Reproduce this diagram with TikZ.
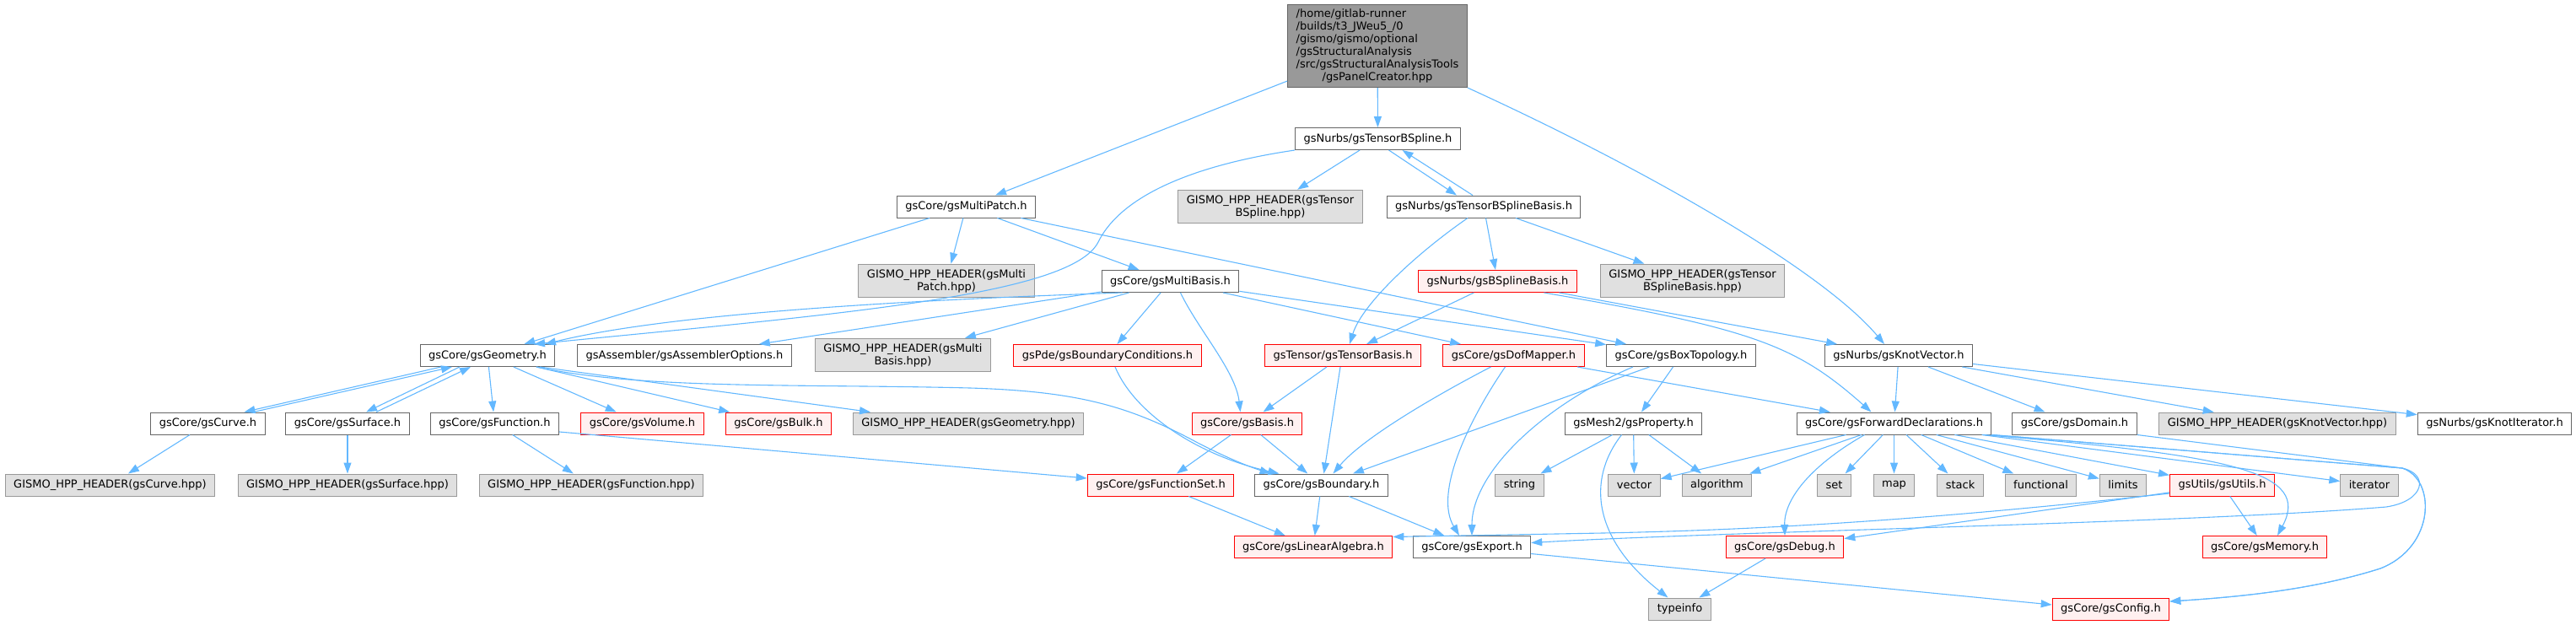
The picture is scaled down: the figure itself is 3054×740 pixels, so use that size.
\documentclass[tikz,border=0pt]{standalone}
\usepackage{fontspec}
\setmainfont{DejaVu Sans}
\usetikzlibrary{arrows.meta}

\definecolor{edgeblue}{HTML}{63B8FF}
\definecolor{boxgrey}{HTML}{666666}
\definecolor{hdrgrey}{HTML}{999999}
\definecolor{hdrfill}{HTML}{E0E0E0}
\definecolor{redfill}{HTML}{FFF0F0}
\definecolor{rootfill}{HTML}{999999}

\begin{document}
\begin{tikzpicture}[x=1pt,y=-1pt,
  dnode/.style={draw=boxgrey,fill=white,line width=1pt,font=\fontsize{13}{15}\selectfont,align=center,inner xsep=10pt,inner ysep=6pt,minimum height=26pt},
  dred/.style={dnode,draw=red,fill=redfill},
  dgray/.style={dnode,draw=hdrgrey,fill=hdrfill},
  droot/.style={dnode,fill=rootfill,inner ysep=4pt},
  dep/.style={draw=edgeblue,line width=1.1pt,-{Triangle[length=13pt,width=9pt]}}]
\useasboundingbox (0,0) rectangle (3054,740);
% rows top to bottom
\node[droot] (panel) at (1633,54.5) {\begin{tabular}{@{}l@{}}/home/gitlab-runner\\/builds/t3\_JWeu5\_/0\\/gismo/gismo/optional\\/gsStructuralAnalysis\\/src/gsStructuralAnalysisTools\\\multicolumn{1}{@{}c@{}}{/gsPanelCreator.hpp}\end{tabular}};
\node[dnode] (tspline) at (1633.5,164.5) {gsNurbs/gsTensorBSpline.h};
\node[dnode] (mpatch) at (1145.5,245) {gsCore/gsMultiPatch.h};
\node[dgray] (htspline) at (1506,245) {GISMO\_HPP\_HEADER(gsTensor\\BSpline.hpp)};
\node[dnode] (tsbasis) at (1759,245) {gsNurbs/gsTensorBSplineBasis.h};
\node[dgray] (hmpatch) at (1122,333) {GISMO\_HPP\_HEADER(gsMulti\\Patch.hpp)};
\node[dnode] (mbasis) at (1387.5,333.5) {gsCore/gsMultiBasis.h};
\node[dred] (bsbasis) at (1775.5,333.5) {gsNurbs/gsBSplineBasis.h};
\node[dgray] (htsbasis) at (2006.5,333) {GISMO\_HPP\_HEADER(gsTensor\\BSplineBasis.hpp)};
\node[dnode] (geom) at (578,421.5) {gsCore/gsGeometry.h};
\node[dnode] (asmopt) at (811.5,421.5) {gsAssembler/gsAssemblerOptions.h};
\node[dgray] (hmbasis) at (1070.5,421) {GISMO\_HPP\_HEADER(gsMulti\\Basis.hpp)};
\node[dred] (bcond) at (1313,421.5) {gsPde/gsBoundaryConditions.h};
\node[dred] (tbasis) at (1592,421.5) {gsTensor/gsTensorBasis.h};
\node[dred] (dofmap) at (1794.5,421.5) {gsCore/gsDofMapper.h};
\node[dnode] (boxtop) at (1993,421.5) {gsCore/gsBoxTopology.h};
\node[dnode] (knotvec) at (2251,421.5) {gsNurbs/gsKnotVector.h};
\node[dnode] (curve) at (246.5,502) {gsCore/gsCurve.h};
\node[dnode] (surf) at (412,502) {gsCore/gsSurface.h};
\node[dnode] (func) at (586.5,502) {gsCore/gsFunction.h};
\node[dred] (vol) at (761.5,502) {gsCore/gsVolume.h};
\node[dred] (bulk) at (923,502) {gsCore/gsBulk.h};
\node[dgray] (hgeom) at (1148,502) {GISMO\_HPP\_HEADER(gsGeometry.hpp)};
\node[dred] (basis) at (1478.5,502) {gsCore/gsBasis.h};
\node[dnode] (prop) at (1936.5,502) {gsMesh2/gsProperty.h};
\node[dnode] (fwd) at (2245.5,502) {gsCore/gsForwardDeclarations.h};
\node[dnode] (domain) at (2459.5,502) {gsCore/gsDomain.h};
\node[dgray] (hknot) at (2700,502) {GISMO\_HPP\_HEADER(gsKnotVector.hpp)};
\node[dnode] (knotit) at (2957.5,502) {gsNurbs/gsKnotIterator.h};
\node[dgray] (hcurve) at (130.5,575) {GISMO\_HPP\_HEADER(gsCurve.hpp)};
\node[dgray] (hsurf) at (412,575) {GISMO\_HPP\_HEADER(gsSurface.hpp)};
\node[dgray] (hfunc) at (701,575) {GISMO\_HPP\_HEADER(gsFunction.hpp)};
\node[dred] (funcset) at (1376,575) {gsCore/gsFunctionSet.h};
\node[dnode] (bnd) at (1566.5,575) {gsCore/gsBoundary.h};
\node[dgray] (stdstring) at (1801.5,575) {string};
\node[dgray] (stdvector) at (1937.5,575) {vector};
\node[dgray] (stdalgo) at (2035.5,575) {algorithm};
\node[dgray] (stdset) at (2174.5,575) {set};
\node[dgray] (stdmap) at (2245.5,575) {map};
\node[dgray] (stdstack) at (2324,575) {stack};
\node[dgray] (functional) at (2419.5,575) {functional};
\node[dgray] (limits) at (2517,575) {limits};
\node[dred] (utils) at (2634.5,575) {gsUtils/gsUtils.h};
\node[dgray] (iterator) at (2809,575) {iterator};
\node[dred] (linalg) at (1557,648.5) {gsCore/gsLinearAlgebra.h};
\node[dnode] (export) at (1745,648.5) {gsCore/gsExport.h};
\node[dred] (debug) at (2116,648.5) {gsCore/gsDebug.h};
\node[dred] (memory) at (2685,648.5) {gsCore/gsMemory.h};
\node[dgray] (typeinfo) at (1991.5,722) {typeinfo};
\node[dred] (config) at (2502.5,722) {gsCore/gsConfig.h};
% includes
\draw[dep] (panel) -- (mpatch); \draw[dep] (panel) -- (tspline);
\draw[dep] (panel.south east) .. controls (1950,200) and (2160,320) .. ([xshift=-17pt]knotvec.north);
\draw[dep] (tspline.south west) .. controls (1420,195) and (1330,230) .. (1302,287) .. controls (1270,350) and (1000,372) .. ([xshift=55pt]geom.north);
\draw[dep] (tspline) -- (htspline);
\draw[dep] ([xshift=13pt]tspline.south) -- ([xshift=-32pt]tsbasis.north);
\draw[dep] ([xshift=-13pt]tsbasis.north) -- ([xshift=29pt]tspline.south);
\draw[dep] (mpatch) -- (geom); \draw[dep] (mpatch) -- (hmpatch);
\draw[dep] (mpatch) -- (mbasis); \draw[dep] (mpatch) -- (boxtop);
\draw[dep] ([xshift=-19pt]tsbasis.south) .. controls (1680,300) and (1615,360) .. ([xshift=8pt]tbasis.north);
\draw[dep] (tsbasis) -- (bsbasis); \draw[dep] (tsbasis) -- (htsbasis);
\draw[dep] ([xshift=-57pt]mbasis.south) .. controls (1100,355) and (800,370) .. ([xshift=68pt]geom.north);
\draw[dep] (mbasis) -- (asmopt); \draw[dep] (mbasis) -- (hmbasis); \draw[dep] (mbasis) -- (bcond);
\draw[dep] ([xshift=12pt]mbasis.south) .. controls (1420,390) and (1465,440) .. ([xshift=-8pt]basis.north);
\draw[dep] (mbasis) -- (dofmap); \draw[dep] (mbasis) -- (boxtop);
\draw[dep] (bsbasis) -- (tbasis); \draw[dep] (bsbasis) -- (knotvec);
\draw[dep] ([xshift=55pt]bsbasis.south) .. controls (2080,390) and (2130,410) .. ([xshift=-27pt]fwd.north);
\draw[dep] ([xshift=-55pt]geom.south) -- ([xshift=43pt]curve.north);
\draw[dep] ([xshift=54pt]curve.north) -- ([xshift=-42pt]geom.south);
\draw[dep] ([xshift=-33pt]geom.south) -- ([xshift=22pt]surf.north);
\draw[dep] ([xshift=34pt]surf.north) -- ([xshift=-20pt]geom.south);
\draw[dep] (geom) -- (func); \draw[dep] (geom) -- (vol); \draw[dep] (geom) -- (bulk);
\draw[dep] ([xshift=62pt]geom.south) -- ([xshift=-116pt]hgeom.north);
\draw[dep] ([xshift=58pt]geom.south) .. controls (760,462) and (950,455) .. (1150,460) .. controls (1280,464) and (1340,482) .. (1420,525) .. controls (1455,543) and (1480,553) .. ([xshift=-60pt]bnd.north);
\draw[dep] (curve) -- (hcurve); \draw[dep] (surf) -- (hsurf); \draw[dep] (func) -- (hfunc);
\draw[dep] ([yshift=-10pt]func.east) -- ([yshift=8pt]funcset.west);
\draw[dep] ([xshift=9pt]bcond.south) .. controls (1345,490) and (1420,540) .. ([xshift=-50pt]bnd.north);
\draw[dep] (tbasis) -- (basis);
\draw[dep] ([xshift=-3pt]tbasis.south) -- ([xshift=3pt]bnd.north);
\draw[dep] ([xshift=-27pt]dofmap.south) .. controls (1700,470) and (1615,520) .. ([xshift=14pt]bnd.north);
\draw[dep] ([xshift=-10pt]dofmap.south) .. controls (1740,500) and (1700,585) .. ([xshift=-15pt]export.north);
\draw[dep] (dofmap) -- (fwd);
\draw[dep] (boxtop) -- (bnd);
\draw[dep] ([xshift=-57pt]boxtop.south) .. controls (1830,480) and (1745,560) .. (export.north);
\draw[dep] (boxtop) -- (prop);
\draw[dep] (knotvec) -- (fwd); \draw[dep] (knotvec) -- (domain);
\draw[dep] (knotvec) -- (hknot); \draw[dep] (knotvec) -- (knotit);
\draw[dep] (basis) -- (funcset); \draw[dep] (basis) -- (bnd);
\draw[dep] (prop) -- (stdstring); \draw[dep] (prop) -- (stdvector); \draw[dep] (prop) -- (stdalgo);
\draw[dep] ([xshift=-14pt]prop.south) .. controls (1880,570) and (1890,640) .. ([xshift=-14pt]typeinfo.north);
\draw[dep] (fwd) -- (stdvector); \draw[dep] (fwd) -- (stdalgo);
\draw[dep] ([xshift=-35pt]fwd.south) .. controls (2150,550) and (2115,590) .. (debug.north);
\draw[dep] (fwd) -- (stdset); \draw[dep] (fwd) -- (stdmap); \draw[dep] (fwd) -- (stdstack);
\draw[dep] (fwd) -- (functional); \draw[dep] (fwd) -- (limits);
\draw[dep] (fwd) -- (utils); \draw[dep] (fwd) -- (iterator);
\draw[dep] ([xshift=-10pt]fwd.south east) .. controls (2650,540) and (2740,560) .. ([xshift=15pt]memory.north);
\draw[dep] (fwd.south east) -- (2848,555) .. controls (2880,562) and (2875,594) .. (2829,601) .. controls (2600,620) and (2050,630) .. ([yshift=5pt]export.east);
\draw[dep] (fwd.south east) -- (2848,555) .. controls (2888,568) and (2888,648) .. (2822,674) .. controls (2740,700) and (2650,708) .. ([yshift=9pt]config.east);
\draw[dep] (domain.south east) -- (2848,555) .. controls (2888,568) and (2888,648) .. (2822,674) .. controls (2740,700) and (2650,708) .. ([yshift=9pt]config.east);
\draw[dep] (utils) -- (debug);
\draw[dep] ([yshift=-10pt]utils.west) .. controls (2300,615) and (2100,628) .. (1900,632) -- ([yshift=12pt]linalg.east);
\draw[dep] (utils) -- (memory);
\draw[dep] (bnd) -- (linalg); \draw[dep] (bnd) -- (export); \draw[dep] (funcset) -- (linalg);
\draw[dep] ([yshift=-8pt]export.east) -- ([yshift=5pt]config.west);
\draw[dep] (debug) -- (typeinfo);
\end{tikzpicture}
\end{document}
